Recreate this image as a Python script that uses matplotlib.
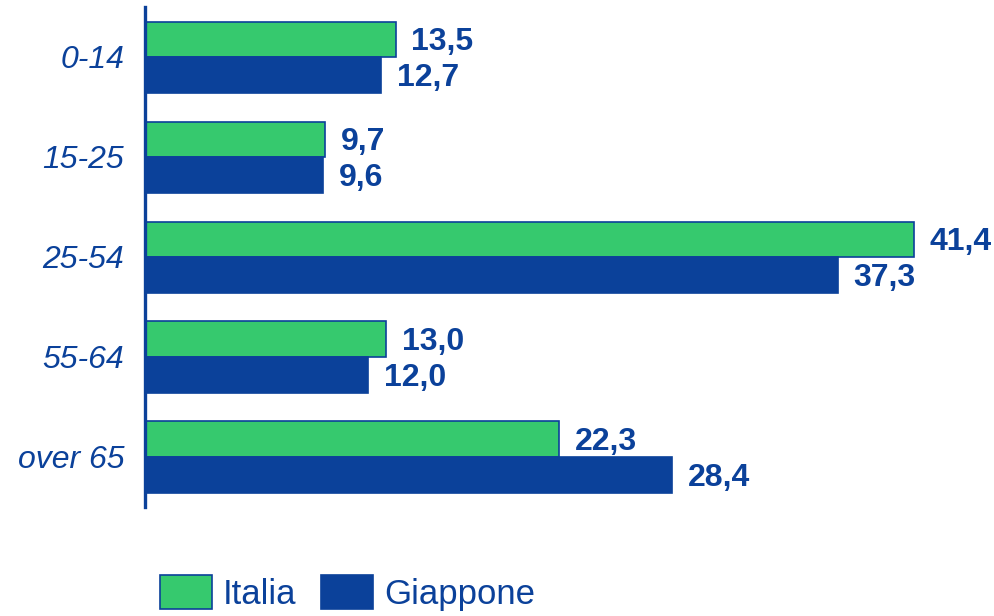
import matplotlib
matplotlib.use("Agg")
import matplotlib.pyplot as plt
import numpy as np

plt.rcParams["font.family"] = ["Liberation Sans", "DejaVu Sans"]

categories = ["0-14", "15-25", "25-54", "55-64", "over 65"]
italia = [13.5, 9.7, 41.4, 13.0, 22.3]
giappone = [12.7, 9.6, 37.3, 12.0, 28.4]
series_names = ["Italia", "Giappone"]

green = "#36C96E"
blue = "#0B419A"

fig = plt.figure(figsize=(9.95, 6.16), dpi=100)
ax = fig.add_axes([145 / 995, 1 - 507 / 616, 817 / 995, 500 / 616])

y = np.arange(len(categories))
h = 0.355
b1 = ax.barh(y - h / 2, italia, height=h, color=green, edgecolor=blue,
             linewidth=1.2, label=series_names[0])
b2 = ax.barh(y + h / 2, giappone, height=h, color=blue, edgecolor=blue,
             linewidth=1.2, label=series_names[1])

fmt = lambda v: f"{v:.1f}".replace(".", ",")
for bars, vals in ((b1, italia), (b2, giappone)):
    for rect, v in zip(bars, vals):
        ax.text(v + 0.85, rect.get_y() + rect.get_height() / 2 + 0.03, fmt(v),
                va="center", ha="left", fontsize=23, fontweight="bold",
                color=blue)

ax.set_ylim(len(categories) - 0.5, -0.5)
ax.set_xlim(0, 44)
ax.set_yticks(y)
ax.set_yticklabels(categories, fontsize=23, fontstyle="italic", color=blue)
ax.tick_params(axis="y", length=0, pad=15)
ax.set_xticks([])
for s in ("top", "right", "bottom"):
    ax.spines[s].set_visible(False)
ax.spines["left"].set_color(blue)
ax.spines["left"].set_linewidth(2.4)

fig.legend(loc="center", bbox_to_anchor=(0.349, 0.037), ncol=2, frameon=False,
           fontsize=25, handlelength=1.5, handleheight=1.1,
           handletextpad=0.32, columnspacing=0.7, labelcolor=blue,
           borderpad=0, borderaxespad=0)

fig.savefig("out.png", dpi=100)
